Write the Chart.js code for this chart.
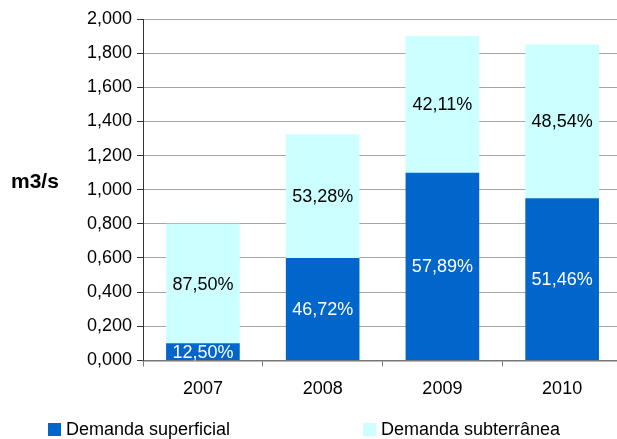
<!DOCTYPE html>
<html>
<head>
<meta charset="utf-8">
<script src="https://cdn.jsdelivr.net/npm/chart.js@4/dist/chart.umd.min.js"></script>
<style>
  html, body { margin: 0; padding: 0; background: #fff; overflow: hidden; }
  #wrap { width: 622px; height: 439px; }
</style>
</head>
<body>
<div id="wrap"><canvas id="demanda-chart"></canvas></div>
<script>
// data
const categories = ["2007", "2008", "2009", "2010"];
const superficial = [0.10, 0.60, 1.10, 0.95];
const subterranea = [0.70, 0.725, 0.80, 0.90];
const pctSuperficial = ["12,50%", "46,72%", "57,89%", "51,46%"];
const pctSubterranea = ["87,50%", "53,28%", "42,11%", "48,54%"];
const yTickLabels = ["0,000", "0,200", "0,400", "0,600", "0,800", "1,000",
  "1,200", "1,400", "1,600", "1,800", "2,000"];
const seriesNames = ["Demanda superficial", "Demanda subterrânea"];
const seriesColors = ["#0066CC", "#CCFFFF"];
const labelColors = ["#ffffff", "#000000"];
const yTitle = "m3/s";

Chart.defaults.font.family = "Arial, 'Liberation Sans', sans-serif";
Chart.defaults.color = "#000";

// percentage text in the middle of each bar segment
const barLabels = {
  id: "barLabels",
  afterDatasetsDraw(chart) {
    const ctx = chart.ctx;
    const texts = [pctSuperficial, pctSubterranea];
    ctx.save();
    ctx.font = "18px Arial, 'Liberation Sans', sans-serif";
    ctx.textAlign = "center";
    ctx.textBaseline = "middle";
    chart.data.datasets.forEach((ds, i) => {
      const meta = chart.getDatasetMeta(i);
      ctx.fillStyle = labelColors[i];
      meta.data.forEach((bar, j) => {
        ctx.fillText(texts[i][j], bar.x, (bar.y + bar.base) / 2 + 1);
      });
    });
    ctx.restore();
  },
};

// horizontal axis title and bottom legend
const extras = {
  id: "extras",
  afterDraw(chart) {
    const ctx = chart.ctx;
    ctx.save();
    ctx.fillStyle = "#000";
    ctx.font = "bold 21px Arial, 'Liberation Sans', sans-serif";
    ctx.textAlign = "left";
    ctx.textBaseline = "middle";
    ctx.fillText(yTitle, 11, 182);

    ctx.font = "18px Arial, 'Liberation Sans', sans-serif";
    const boxX = [48, 363];
    const y = chart.height - 10;
    seriesNames.forEach((name, i) => {
      ctx.fillStyle = seriesColors[i];
      ctx.fillRect(boxX[i], y - 6, 13, 13);
      ctx.fillStyle = "#000";
      ctx.fillText(name, boxX[i] + 18, y + 1);
    });
    ctx.restore();
  },
};

const ctx = document.getElementById("demanda-chart").getContext("2d");
const demandaChart = new Chart(ctx, {
  type: "bar",
  data: {
    labels: categories,
    datasets: [
      {
        label: seriesNames[0],
        data: superficial,
        backgroundColor: seriesColors[0],
        categoryPercentage: 1,
        barPercentage: 0.615,
      },
      {
        label: seriesNames[1],
        data: subterranea,
        backgroundColor: seriesColors[1],
        categoryPercentage: 1,
        barPercentage: 0.615,
      },
    ],
  },
  options: {
    responsive: true,
    maintainAspectRatio: false,
    animation: false,
    layout: {
      padding: { left: 82, right: 0, top: 19, bottom: 27 },
    },
    plugins: {
      legend: { display: false },
      tooltip: { enabled: false },
    },
    scales: {
      x: {
        stacked: true,
        grid: {
          display: true,
          drawOnChartArea: false,
          offset: true,
          tickLength: 6,
          tickColor: "#777",
        },
        border: { color: "#777", width: 1.5 },
        ticks: { font: { size: 18 }, padding: 12 },
      },
      y: {
        stacked: true,
        min: 0,
        max: 2,
        grid: {
          color: "#a6a6a6",
          tickColor: "#333",
          tickLength: 6,
        },
        border: { color: "#333" },
        ticks: {
          stepSize: 0.2,
          padding: 5,
          font: { size: 18 },
          callback: (v, i) => yTickLabels[i],
        },
      },
    },
  },
  plugins: [barLabels, extras],
});
</script>
</body>
</html>
